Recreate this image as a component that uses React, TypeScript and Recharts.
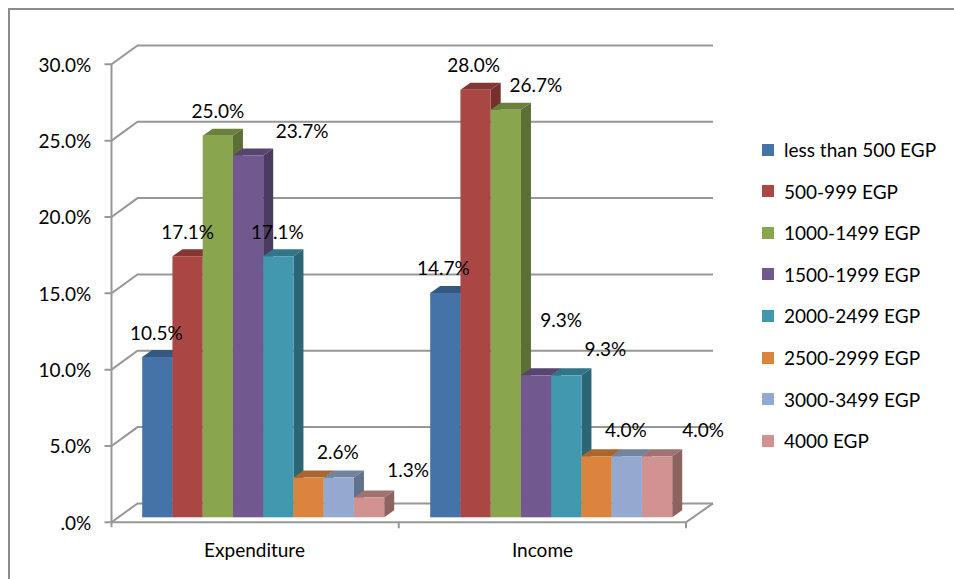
import { Bar, BarChart, CartesianGrid, LabelList, Legend, XAxis, YAxis } from "recharts";

const CATEGORIES = ["Expenditure", "Income"];
const SERIES_NAMES = [
  "less than 500 EGP",
  "500-999 EGP",
  "1000-1499 EGP",
  "1500-1999 EGP",
  "2000-2499 EGP",
  "2500-2999 EGP",
  "3000-3499 EGP",
  "4000 EGP",
];
const UNDER_500 = [10.5, 14.7];
const FROM_500 = [17.1, 28.0];
const FROM_1000 = [25.0, 26.7];
const FROM_1500 = [23.7, 9.3];
const FROM_2000 = [17.1, 9.3];
const FROM_2500 = [2.6, 4.0];
const FROM_3000 = [2.6, 4.0];
const FROM_4000 = [1.3, 4.0];
const VALUE_TICKS = [0, 5, 10, 15, 20, 25, 30];

const SERIES_VALUES = [UNDER_500, FROM_500, FROM_1000, FROM_1500, FROM_2000, FROM_2500, FROM_3000, FROM_4000];
const rows = CATEGORIES.map((category, i) => {
  const row: Record<string, string | number> = { category };
  SERIES_NAMES.forEach((name, s) => {
    row[name] = SERIES_VALUES[s][i];
  });
  return row;
});

// front, top face, side face
const COLORS = [
  ["#4572a7", "#35587f", "#2e4c6f"],
  ["#aa4643", "#843634", "#74302e"],
  ["#89a54e", "#6a803c", "#5c6f34"],
  ["#71588f", "#57446f", "#4c3b61"],
  ["#4198af", "#327588", "#2b6676"],
  ["#db843d", "#aa662f", "#945929"],
  ["#93a9cf", "#7283a1", "#63728c"],
  ["#d19392", "#a27271", "#8d6362"],
];

// Excel labels were dragged by hand; [dx, dy] per series, per category. null = label deleted.
const LABEL_NUDGE: ([number, number][] | null)[] = [
  [[-1, 0], [-2, 0]],
  [[0, 0], [-2, 0]],
  [[0, 0], [30, 0]],
  [[54, 0], [25, -31]],
  [[-1, 0], [39, -2]],
  null,
  [[-1, -1], [-1, -2]],
  [[39, -3], [46, -2]],
];

const FONT = "Lato, sans-serif";
const FONT_SIZE = 19;
const GRID = "#979797";
const DEPTH_X = 10;
const DEPTH_Y = 7;

function Box3D({ x, y, width, height, colors }: any) {
  const r = x + width;
  const b = y + height;
  return (
    <g>
      <polygon
        points={`${x},${y} ${x + DEPTH_X},${y - DEPTH_Y} ${r + DEPTH_X},${y - DEPTH_Y} ${r},${y}`}
        fill={colors[1]}
      />
      <polygon
        points={`${r},${y} ${r + DEPTH_X},${y - DEPTH_Y} ${r + DEPTH_X},${b - DEPTH_Y} ${r},${b}`}
        fill={colors[2]}
      />
      <rect x={x} y={y} width={width} height={height} fill={colors[0]} />
    </g>
  );
}

// Draws the 3D wall line for a value: front tick, diagonal, back line. The zero level also gets the floor.
function WallLine({ x1, x2, y1, index }: any) {
  const frontL = x1 - 7.7;
  const frontR = x2 - 9.2;
  const backL = x1 + 18.3;
  const backR = x2 + 17.8;
  const frontY = y1 + 5;
  const backY = y1 - 13.9;
  const isFloor = y1 > 500;
  const common = { stroke: GRID, strokeWidth: 2, fill: "none" };
  return (
    <g key={index}>
      <path d={`M${frontL - 7},${frontY} H${frontL} L${backL},${backY} H${backR}`} {...common} />
      {isFloor && (
        <path
          d={`M${frontL},${frontY} H${frontR} L${backR},${backY} M${frontL},${frontY + 5} V${frontY - 458}
              M${(frontL + frontR) / 2},${frontY} v6 M${frontR},${frontY} v6`}
          {...common}
        />
      )}
    </g>
  );
}

function ValueTick({ x, y, payload }: any) {
  const v = payload.value;
  return (
    <text
      x={x - 22}
      y={y + 5}
      textAnchor="end"
      dominantBaseline="central"
      fontFamily={FONT}
      fontSize={FONT_SIZE}
      fill="#000"
    >
      {v === 0 ? ".0%" : `${v.toFixed(1)}%`}
    </text>
  );
}

function CategoryTick({ x, y, payload }: any) {
  return (
    <text
      x={x - 8.7}
      y={y + 24}
      textAnchor="middle"
      dominantBaseline="central"
      fontFamily={FONT}
      fontSize={FONT_SIZE}
      fill="#000"
    >
      {payload.value}
    </text>
  );
}

function makeLabel(nudge: [number, number][]) {
  return function BarLabel({ x, y, width, value, index }: any) {
    const [dx, dy] = nudge[index];
    return (
      <text
        x={x + width / 2 + dx}
        y={y - 25 + dy}
        textAnchor="middle"
        dominantBaseline="central"
        fontFamily={FONT}
        fontSize={FONT_SIZE}
        fill="#000"
      >
        {`${Number(value).toFixed(1)}%`}
      </text>
    );
  };
}

function LegendList({ payload }: any) {
  return (
    <div style={{ fontFamily: FONT, fontSize: FONT_SIZE, color: "#000" }}>
      {payload.map((item: any) => (
        <div key={item.value} style={{ height: 41.6, display: "flex", alignItems: "center", whiteSpace: "nowrap" }}>
          <span style={{ width: 12, height: 12, background: item.color, marginRight: 10, flex: "none" }} />
          {item.value}
        </div>
      ))}
    </div>
  );
}

export default function App() {
  return (
    <div style={{ position: "absolute", left: 0, top: 0, width: 954, height: 579, overflow: "hidden", background: "#fff" }}>
      <div
        style={{
          position: "absolute",
          left: 8,
          top: 8,
          width: 946,
          height: 571,
          borderLeft: "2px solid #8c8c8c",
          borderTop: "2px solid #8c8c8c",
        }}
      />
      <BarChart
        width={954}
        height={579}
        data={rows}
        barSize={30.25}
        barGap={0}
        margin={{ top: 59.3, right: 258.8, bottom: 1.7, left: 19.2 }}
        style={{ position: "absolute", left: 0, top: 0 }}
      >
        <CartesianGrid vertical={false} horizontal={(p: any) => <WallLine {...p} />} />
        <XAxis dataKey="category" height={60} axisLine={false} tickLine={false} tick={<CategoryTick />} interval={0} />
        <YAxis
          width={100}
          domain={[0, 30]}
          ticks={VALUE_TICKS}
          axisLine={false}
          tickLine={false}
          tickMargin={0}
          tick={<ValueTick />}
          interval={0}
        />
        <Legend
          layout="vertical"
          align="center"
          verticalAlign="middle"
          itemSorter={null}
          content={<LegendList />}
          wrapperStyle={{ left: 762, top: 128.8, right: "auto", bottom: "auto", width: 190 }}
        />
        {SERIES_NAMES.map((name, s) => {
          const nudge = LABEL_NUDGE[s];
          return (
            <Bar
              key={name}
              dataKey={name}
              fill={COLORS[s][0]}
              isAnimationActive={false}
              shape={(p: any) => <Box3D {...p} colors={COLORS[s]} />}
            >
              {nudge && <LabelList dataKey={name} content={makeLabel(nudge)} />}
            </Bar>
          );
        })}
      </BarChart>
    </div>
  );
}
